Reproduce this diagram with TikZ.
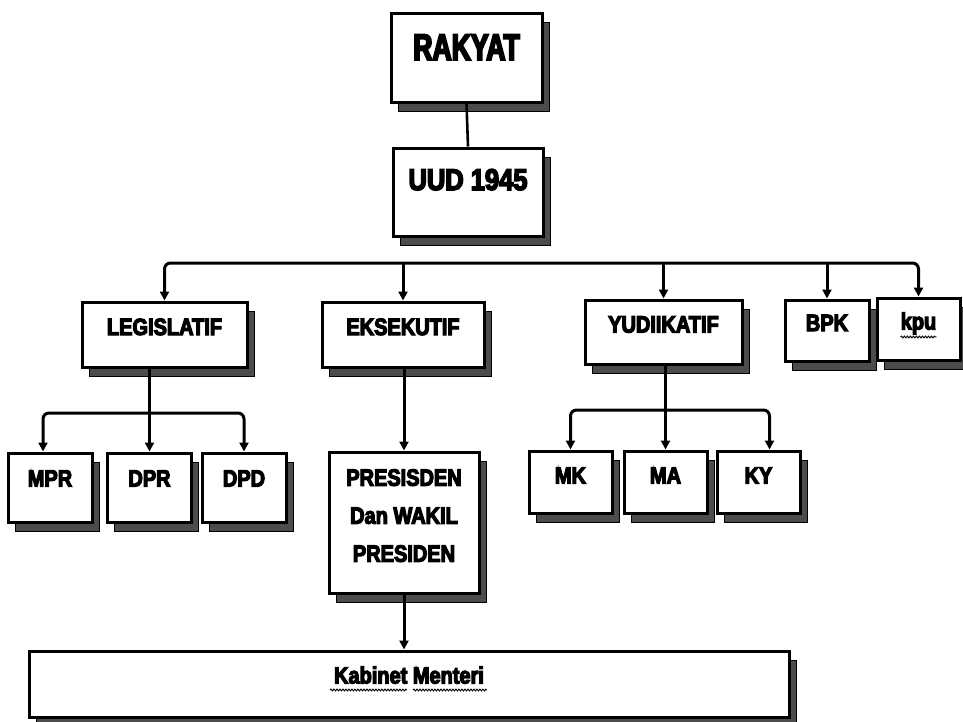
\documentclass[tikz,border=0pt]{standalone}
\usepackage{fontspec}
\usetikzlibrary{shapes,positioning,shadows,arrows.meta,decorations.pathmorphing}
\newfontfamily\chartfont[FakeStretch=0.85,FakeBold=5]{Liberation Sans Bold}
\newfontfamily\titlefont[FakeStretch=0.72,FakeBold=5]{Liberation Sans Bold}

\begin{document}
\begin{tikzpicture}[
    x=1pt, y=-1pt,
    boxNode/.style={rectangle, draw, fill=white, line width=3pt, inner sep=0pt,
      font=\chartfont\fontsize{23.5}{28}\selectfont,
      text height=17pt, text depth=16pt,
      drop shadow={shadow xshift=7pt, shadow yshift=-9pt, fill=black!70, draw=black, line width=0.8pt, opacity=1}},
    smallNode/.style={boxNode, minimum width=84pt, minimum height=66pt},
    arrow/.style={-{Triangle[length=9pt,width=9pt]}, line width=3pt},
    twoArrow/.style={{Triangle[length=9pt,width=9pt]}-{Triangle[length=9pt,width=9pt]}, line width=3pt, rounded corners=6pt},
    link/.style={line width=2.6pt},
    squiggle/.style={decorate, decoration={snake, amplitude=0.9pt, segment length=3pt}, line width=0.9pt}
  ]
  \useasboundingbox (0,0) rectangle (963,721);

  % Top
  \node[boxNode, minimum width=151pt, minimum height=89pt, font=\titlefont\fontsize{37}{40}\selectfont,
    text height=26pt, text depth=21pt] (rakyat) at (466.5,57.5) {RAKYAT};
  \node[boxNode, minimum width=150pt, minimum height=88pt, font=\chartfont\fontsize{30}{36}\selectfont,
    text height=21pt, text depth=25pt] (uud) at (468,192) {UUD 1945};

  % Second Row
  \node[boxNode, minimum width=165pt, minimum height=65pt] (leg) at (164.5,334.5) {LEGISLATIF};
  \node[boxNode, minimum width=162pt, minimum height=65pt] (eks) at (403,334.5) {EKSEKUTIF};
  \node[boxNode, minimum width=157pt, minimum height=64pt] (yud) at (663.5,332) {YUDIIKATIF};
  \node[boxNode, minimum width=84pt, minimum height=61pt] (bpk) at (827,330.5) {BPK};
  \node[boxNode, minimum width=83pt, minimum height=62pt] (kpu) at (918.5,329) {kpu};

  % Third Row
  \node[smallNode, minimum height=69pt, text depth=19pt] (mpr) at (50,487.5) {MPR};
  \node[smallNode, minimum height=69pt, text depth=19pt] (dpr) at (149.5,487.5) {DPR};
  \node[smallNode, minimum height=69pt, text depth=19pt] (dpd) at (244,487.5) {DPD};
  \node[boxNode, minimum width=150pt, minimum height=141pt, align=center, text height=, text depth=,
    font=\chartfont\fontsize{23.5}{38}\selectfont] (pres) at (404,522.5)
    {PRESISDEN\\Dan WAKIL\\PRESIDEN\rule[-14pt]{0pt}{14pt}};
  \node[smallNode, minimum width=83pt, minimum height=62pt, text depth=14pt] (mk) at (570.5,482) {MK};
  \node[smallNode, minimum width=83pt, minimum height=62pt, text depth=14pt] (ma) at (665.5,482) {MA};
  \node[smallNode, minimum width=83pt, minimum height=62pt, text depth=14pt] (ky) at (758.5,482) {KY};

  % Bottom
  \node[boxNode, minimum width=760pt, minimum height=66pt, text depth=18pt] (kab) at (409,684)
    {Kabinet Menteri};

  % spelling marks
  \draw[squiggle] ([xshift=-18pt, yshift=-8pt]kpu.center) -- ([xshift=18pt, yshift=-8pt]kpu.center);
  \draw[squiggle] ([xshift=-79pt, yshift=-6pt]kab.center) -- ([xshift=-2pt, yshift=-6pt]kab.center);
  \draw[squiggle] ([xshift=4pt, yshift=-6pt]kab.center) -- ([xshift=78pt, yshift=-6pt]kab.center);

  % Lines
  \coordinate (topBus) at (467,263);
  \coordinate (legBus) at (148,413);
  \coordinate (yudBus) at (665,410);

  \draw[link] (rakyat.south) -- (uud.north);
  \draw[twoArrow] (leg.north) |- (topBus) -| (kpu.north);
  \draw[arrow] (eks.north |- topBus) -- (eks.north);
  \draw[arrow] (yud.north |- topBus) -- (yud.north);
  \draw[arrow] (bpk.north |- topBus) -- (bpk.north);

  \draw[arrow] (leg.south -| dpr.north) -- (dpr.north);
  \draw[twoArrow] ([xshift=-7pt]mpr.north) |- (legBus) -| (dpd.north);

  \draw[arrow] (eks.south -| pres.north) -- (pres.north);
  \draw[arrow] (pres.south) -- (pres.south |- kab.north);

  \draw[arrow] (yud.south -| ma.north) -- (ma.north);
  \draw[twoArrow] (mk.north) |- (yudBus) -| ([xshift=11pt]ky.north);

\end{tikzpicture}
\end{document}
